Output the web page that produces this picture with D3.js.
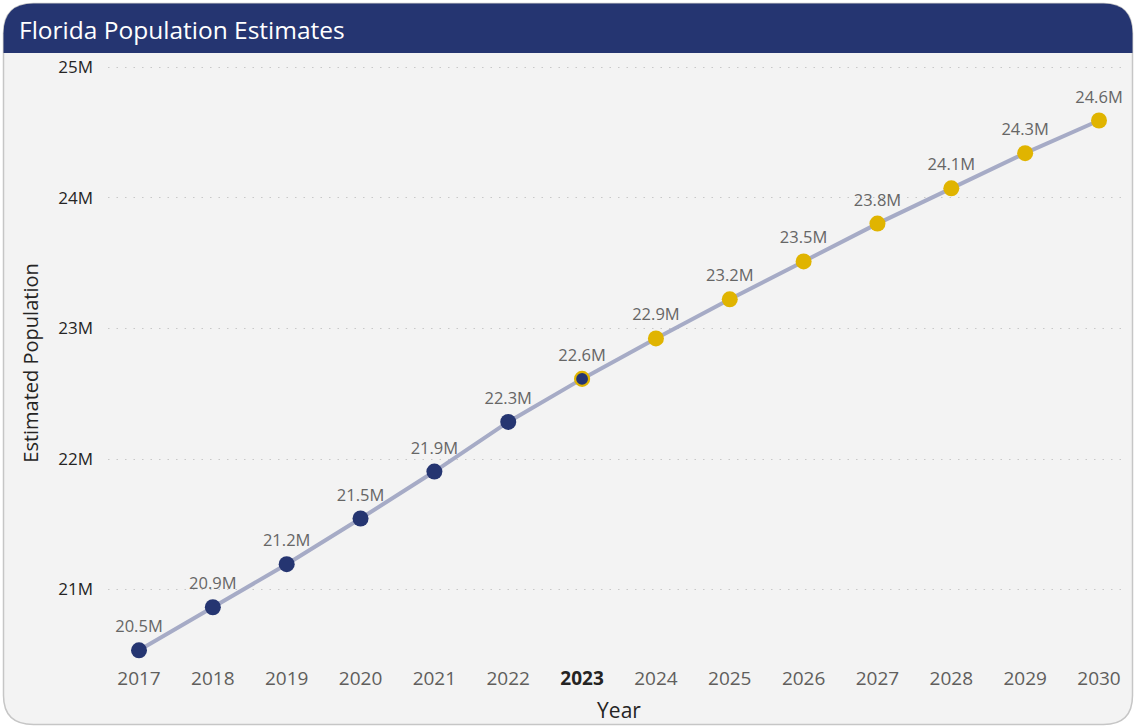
<!DOCTYPE html>
<html>
<head>
<meta charset="utf-8">
<script src="https://cdn.jsdelivr.net/npm/d3@7"></script>
<style>
  body { margin: 0; background: #ffffff; }
  svg { display: block; font-family: "Open Sans", "Noto Sans", sans-serif; }
</style>
</head>
<body>
<svg id="chart" width="1136" height="728"></svg>
<script>
const years = [2017, 2018, 2019, 2020, 2021, 2022, 2023, 2024, 2025, 2026, 2027, 2028, 2029, 2030];
const population = [20.53, 20.86, 21.19, 21.54, 21.9, 22.28, 22.61, 22.92, 23.22, 23.51, 23.8, 24.07, 24.34, 24.59];
const yTicks = [21, 22, 23, 24, 25];
const currentYear = 2023;

const navy = "#253571";
const gold = "#e0b400";

const svg = d3.select("#chart");

// card
svg.append("path")
  .attr("d", "M3.5,33.5 Q3.5,3.5 33.5,3.5 L1103.5,3.5 Q1132.5,3.5 1132.5,33.5 L1132.5,695.5 Q1132.5,724.5 1103.5,724.5 L33.5,724.5 Q3.5,724.5 3.5,695.5 Z")
  .attr("fill", "#f3f3f3")
  .attr("stroke", "#c6c6c6")
  .attr("stroke-width", 1.5);

svg.append("path")
  .attr("d", "M3.5,53 L3.5,33.5 Q3.5,3.5 33.5,3.5 L1103.5,3.5 Q1132.5,3.5 1132.5,33.5 L1132.5,53 Z")
  .attr("fill", navy);

svg.append("text")
  .attr("x", 19)
  .attr("y", 39)
  .attr("fill", "#ffffff")
  .attr("font-size", 24.5)
  .text("Florida Population Estimates");

const x = d3.scalePoint().domain(years).range([139, 1099]);
const y = d3.scaleLinear().domain([20, 25]).range([719.5, 67]);

// grid + y ticks
const grid = svg.append("g");
grid.selectAll("line").data(yTicks).join("line")
  .attr("x1", 108).attr("x2", 1125)
  .attr("y1", d => Math.round(y(d)) + 0.5).attr("y2", d => Math.round(y(d)) + 0.5)
  .attr("stroke", "#c8c8c8")
  .attr("stroke-width", 1.2)
  .attr("stroke-dasharray", "1.5,7");

grid.selectAll("text").data(yTicks).join("text")
  .attr("x", 93).attr("y", d => y(d) + 6)
  .attr("text-anchor", "end")
  .attr("fill", "#252423")
  .attr("font-size", 17)
  .text(d => d + "M");

// x ticks
svg.append("g").selectAll("text").data(years).join("text")
  .attr("x", d => x(d)).attr("y", 685)
  .attr("text-anchor", "middle")
  .attr("font-size", 19)
  .attr("fill", d => d === currentYear ? "#252423" : "#605e5c")
  .attr("font-weight", d => d === currentYear ? "bold" : "normal")
  .text(d => d);

svg.append("text")
  .attr("x", 619).attr("y", 718)
  .attr("text-anchor", "middle")
  .attr("font-size", 21)
  .attr("fill", "#252423")
  .text("Year");

svg.append("text")
  .attr("transform", "translate(38,363) rotate(-90)")
  .attr("text-anchor", "middle")
  .attr("font-size", 20)
  .attr("fill", "#252423")
  .text("Estimated Population");

const data = years.map((yr, i) => ({ year: yr, value: population[i] }));

svg.append("path")
  .datum(data)
  .attr("fill", "none")
  .attr("stroke", "#a6abc6")
  .attr("stroke-width", 4)
  .attr("d", d3.line().x(d => x(d.year)).y(d => y(d.value)));

svg.append("g").selectAll("circle").data(data).join("circle")
  .attr("cx", d => x(d.year)).attr("cy", d => y(d.value))
  .attr("r", d => d.year === currentYear ? 7 : 8)
  .attr("fill", d => d.year <= currentYear ? navy : gold)
  .attr("stroke", d => d.year === currentYear ? gold : "none")
  .attr("stroke-width", 2.2);

svg.append("g").selectAll("text").data(data).join("text")
  .attr("x", d => x(d.year)).attr("y", d => y(d.value) - 18)
  .attr("text-anchor", "middle")
  .attr("font-size", 16.5)
  .attr("fill", "#666666")
  .text(d => d3.format(".1f")(d.value) + "M");
</script>
</body>
</html>
